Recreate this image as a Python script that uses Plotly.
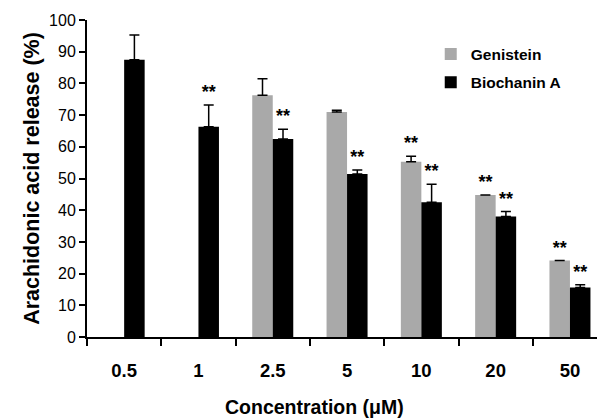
import plotly.graph_objects as go

categories = ["0.5", "1", "2.5", "5", "10", "20", "50"]
genistein = [None, None, 76.3, 71.0, 55.3, 44.8, 24.1]
genistein_err = [0, 0, 5.2, 0.5, 1.7, 0.0, 0.0]
biochanin = [87.5, 66.3, 62.5, 51.4, 42.5, 38.0, 15.6]
biochanin_err = [7.8, 6.9, 3.0, 1.3, 5.7, 1.6, 0.9]
genistein_sig = [False, False, False, False, True, True, True]
biochanin_sig = [False, True, True, True, True, True, True]

GRAY = "#a9a9a9"
BLACK = "#000000"
W = 0.276
FONT = "Liberation Sans, Arial, sans-serif"

xs = list(range(len(categories)))

fig = go.Figure()
fig.add_trace(go.Bar(
    x=xs, y=genistein, name="Genistein", width=W, offset=-W,
    marker=dict(color=GRAY, line=dict(width=0)),
    error_y=dict(type="data", symmetric=False, array=genistein_err,
                 arrayminus=[0] * len(xs), color="black", thickness=1.5, width=5),
    legendgroup="g",
))
fig.add_trace(go.Bar(
    x=xs, y=biochanin, name="Biochanin A", width=W, offset=0,
    marker=dict(color=BLACK, line=dict(width=0)),
    error_y=dict(type="data", symmetric=False, array=biochanin_err,
                 arrayminus=[0] * len(xs), color="black", thickness=1.5, width=5),
    legendgroup="b",
))

# significance stars
sx, sy = [], []
for i in xs:
    if genistein_sig[i]:
        sx.append(i - W / 2)
        sy.append(genistein[i] + genistein_err[i])
    if biochanin_sig[i]:
        sx.append(i + W / 2)
        sy.append(biochanin[i] + biochanin_err[i])
fig.add_trace(go.Scatter(
    x=sx, y=[v + 3.6 for v in sy], mode="text", text=["**"] * len(sx),
    textposition="middle center", cliponaxis=False,
    textfont=dict(family=FONT, size=18, color="black", weight="bold"),
    showlegend=False, hoverinfo="skip",
))

xrange = [-0.5, 6.364]
fig.update_layout(
    width=597, height=418,
    margin=dict(l=87, r=0, t=20, b=81),
    plot_bgcolor="white", paper_bgcolor="white",
    font=dict(family=FONT, color="black"),
    showlegend=True,
    legend=dict(x=0.674, y=0.945, xanchor="left", yanchor="top",
                font=dict(family=FONT, size=15.5, color="black", weight="bold"),
                bgcolor="rgba(0,0,0,0)", traceorder="grouped", tracegroupgap=5),
    xaxis=dict(range=xrange, tickvals=[i - 0.5 for i in xs], ticktext=[""] * len(xs),
               ticks="outside", ticklen=7, tickwidth=2, tickcolor="black",
               showline=True, linewidth=2, linecolor="black",
               showgrid=False, zeroline=False),
    xaxis2=dict(range=xrange, overlaying="x", side="bottom", matches="x",
                tickvals=xs, ticktext=categories, ticks="", ticklabelstandoff=20,
                tickfont=dict(family=FONT, size=18.5, color="black", weight="bold"),
                showline=False, showgrid=False, zeroline=False),
    yaxis=dict(range=[0, 100], tickvals=list(range(0, 101, 10)),
               ticks="outside", ticklen=6, tickwidth=2, tickcolor="black",
               tickfont=dict(family=FONT, size=16, color="black"),
               showline=True, linewidth=2, linecolor="black",
               showgrid=False, zeroline=False,
               title=dict(text="Arachidonic acid release (%)", standoff=4,
                          font=dict(family=FONT, size=21.5, color="black", weight="bold"))),
)
# dummy trace to display xaxis2
fig.add_trace(go.Scatter(x=[None], y=[None], xaxis="x2", showlegend=False, hoverinfo="skip"))

fig.add_annotation(text="Concentration (μM)", xref="paper", yref="paper",
                   x=0.447, y=-0.221, xanchor="center", yanchor="middle", showarrow=False,
                   font=dict(family=FONT, size=19.5, color="black", weight="bold"))

fig.write_html("out.html", post_script="document.body.style.margin='0';",
               config={"displayModeBar": False})
